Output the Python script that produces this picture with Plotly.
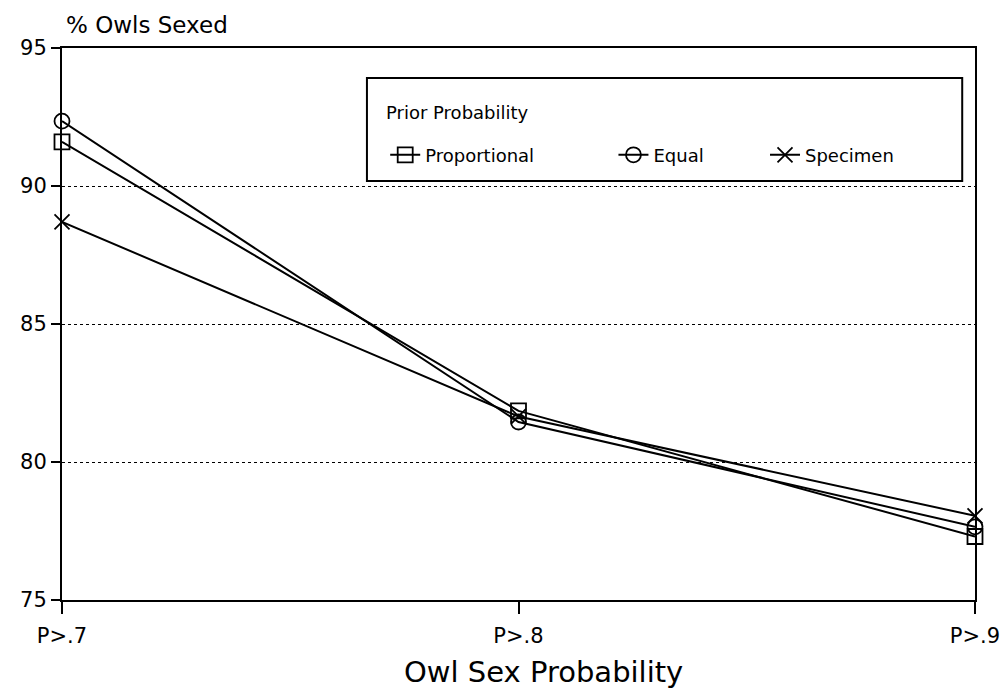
import plotly.graph_objects as go

categories = ["P>.7", "P>.8", "P>.9"]
proportional = [91.6, 81.85, 77.3]
equal = [92.35, 81.45, 77.65]
specimen = [88.7, 81.65, 78.05]

series = [
    ("Proportional", proportional, "square-open", "legend"),
    ("Equal", equal, "circle-open", "legend2"),
    ("Specimen", specimen, "x-thin-open", "legend3"),
]

fig = go.Figure()
for name, vals, sym, leg in series:
    fig.add_trace(
        go.Scatter(
            x=categories,
            y=vals,
            name=name,
            legend=leg,
            mode="lines+markers",
            cliponaxis=False,
            line=dict(color="black", width=2),
            marker=dict(symbol=sym, size=15, color="black",
                        line=dict(color="black", width=1.8)),
        )
    )

font_family = "DejaVu Sans, Verdana, sans-serif"


def legend_box(x):
    # one single-entry legend per series so the entries can sit apart
    return dict(
        orientation="h",
        x=x,
        y=0.806,
        xanchor="left",
        yanchor="middle",
        borderwidth=0,
        bgcolor="rgba(0,0,0,0)",
        font=dict(size=18),
    )


# page body has an 8px margin, so the figure sits at (8, 8)
fig.update_layout(
    width=992,
    height=680,
    paper_bgcolor="white",
    plot_bgcolor="white",
    margin=dict(l=54, r=25, t=40, b=88),
    font=dict(family=font_family, color="black"),
    showlegend=True,
    xaxis=dict(
        type="category",
        range=[0, 2],
        automargin=False,
        showline=True,
        linecolor="black",
        linewidth=2,
        mirror=True,
        ticks="outside",
        ticklen=12,
        tickwidth=1.5,
        tickcolor="black",
        showgrid=False,
        tickfont=dict(size=21),
        ticklabelstandoff=4,
    ),
    yaxis=dict(
        range=[75, 95],
        tickvals=[75, 80, 85, 90, 95],
        automargin=False,
        showline=True,
        linecolor="black",
        linewidth=2,
        mirror=True,
        ticks="outside",
        ticklen=9,
        tickwidth=1.5,
        tickcolor="black",
        showgrid=True,
        gridcolor="black",
        gridwidth=1,
        griddash="dot",
        zeroline=False,
        tickfont=dict(size=21),
    ),
    legend=legend_box(0.354),
    legend2=legend_box(0.604),
    legend3=legend_box(0.770),
    shapes=[
        dict(
            type="rect",
            xref="paper",
            yref="paper",
            x0=0.334,
            x1=0.986,
            y0=0.759,
            y1=0.9457,
            line=dict(color="black", width=2),
            fillcolor="white",
            layer="above",
        )
    ],
    annotations=[
        dict(
            text="% Owls Sexed",
            x=0,
            y=1,
            xref="paper",
            yref="paper",
            xanchor="left",
            yanchor="bottom",
            yshift=8,
            xshift=2,
            showarrow=False,
            font=dict(size=23),
        ),
        dict(
            text="Prior Probability",
            x=0.3527,
            y=0.884,
            xref="paper",
            yref="paper",
            xanchor="left",
            yanchor="middle",
            showarrow=False,
            font=dict(size=18),
        ),
        dict(
            text="Owl Sex Probability",
            x=0.527,
            y=-0.131,
            xref="paper",
            yref="paper",
            xanchor="center",
            yanchor="middle",
            showarrow=False,
            font=dict(size=29),
        ),
    ],
)

fig.write_html("out.html")
